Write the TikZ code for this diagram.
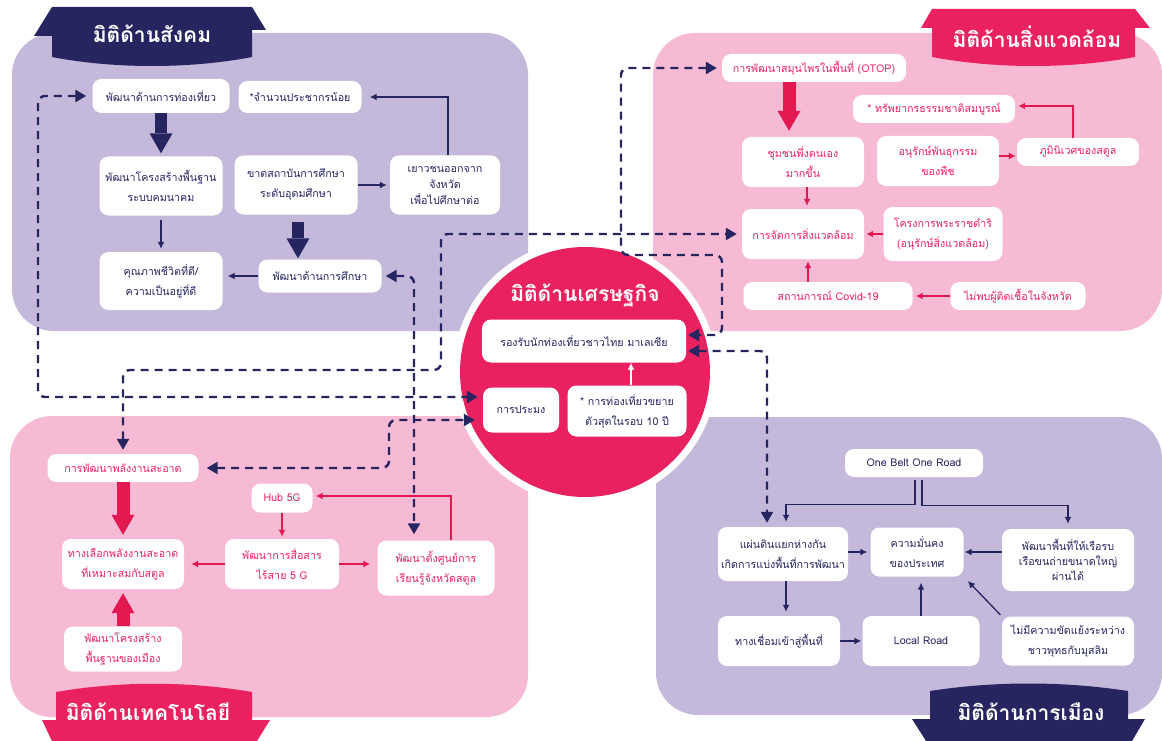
\documentclass[tikz,border=0pt]{standalone}
\usepackage{fontspec}
\setmainfont[Script=Thai]{Loma}
\usetikzlibrary{arrows.meta,positioning}
\definecolor{navy}{RGB}{38,37,96}
\definecolor{rosered}{RGB}{234,33,96}
\definecolor{arrowred}{RGB}{226,24,80}
\definecolor{lilac}{RGB}{196,185,219}
\definecolor{blush}{RGB}{246,186,212}

\begin{document}
\begin{tikzpicture}[x=1pt,y=-1pt,font=\fontsize{10.7}{20}\selectfont,
  sbox/.style={fill=white,rounded corners=9pt,align=center,inner sep=2pt},
  navytxt/.style={sbox,text=navy},
  redtxt/.style={sbox,text=rosered},
  thinnavy/.style={-{Latex[length=7pt,width=7pt]},navy,line width=1.3pt},
  thinred/.style={-{Latex[length=7pt,width=7pt]},arrowred,line width=1.3pt},
  fatnavy/.style={-{Triangle[length=20pt,width=23pt,line width=0pt]},navy,line width=12pt},
  fatred/.style={-{Triangle[length=20pt,width=23pt,line width=0pt]},arrowred,line width=13pt},
  dlink/.style={arrows={Triangle[length=11pt,width=12pt]-Triangle[length=11pt,width=12pt]},
    navy,line width=2.4pt,dash pattern=on 8pt off 6pt,rounded corners=7pt},
  tabtxt/.style={text=white,font=\fontsize{21}{24}\selectfont\bfseries}]
\useasboundingbox (0,0) rectangle (1162,741);
\clip (0,0) rectangle (1162,741);
% ================= panels and tabs =================
\fill[lilac,rounded corners=42pt] (12,33) rectangle (528,331);
\fill[blush,rounded corners=42pt] (653,33) rectangle (1162,331);
\fill[blush,rounded corners=42pt] (10,416) rectangle (528,717);
\fill[lilac,rounded corners=42pt] (656,417) rectangle (1162,715);
\fill[navy] (34,36) -- (52,7) -- (252,7) -- (266,30) -- (252,30) -- (252,57)
  .. controls (190,69) and (114,69) .. (52,57) -- (52,36) -- cycle;
\node[tabtxt] (tabsoc) at (152,34) {มิติด้านสังคม};
\fill[rosered] (921,28) -- (932,9) -- (1135,9) -- (1150,28) -- (1135,28) -- (1135,57)
  .. controls (1070,69) and (996,69) .. (932,57) -- (932,28) -- cycle;
\node[tabtxt] (tabenv) at (1037,37) {มิติด้านสิ่งแวดล้อม};
\fill[rosered] (56,692) .. controls (120,681) and (188,681) .. (252,692) -- (252,720)
  -- (270,720) -- (257,741) -- (52,741) -- (42,720) -- (56,720) -- cycle;
\node[tabtxt] (tabtech) at (148,712) {มิติด้านเทคโนโลยี};
\fill[navy] (930,691) .. controls (995,681) and (1063,681) .. (1128,691) -- (1128,719)
  -- (1145,719) -- (1132,741) -- (926,741) -- (912,719) -- (930,719) -- cycle;
\node[tabtxt] (tabpol) at (1031,712) {มิติด้านการเมือง};
% ================= CENTRE: economy =================
\fill[white] (585,372) circle[radius=132pt];
\fill[rosered] (585,372) circle[radius=125pt];
\node[tabtxt] (tabeco) at (585,295) {มิติด้านเศรษฐกิจ};
\node[navytxt,minimum width=204pt,minimum height=43pt] (thai) at (584,341)
  {รองรับนักท่องเที่ยวชาวไทย มาเลเซีย};
\node[navytxt,minimum width=76pt,minimum height=45pt] (fish) at (521,410) {การประมง};
\node[navytxt,minimum width=119pt,minimum height=51pt] (boom) at (627,411)
  {* การท่องเที่ยวขยาย\\ตัวสุดในรอบ 10 ปี};
\draw[-{Latex[length=7pt,width=7pt]},white,line width=1.3pt]
  ([xshift=4pt]boom.north) -- ([xshift=4pt]boom.north |- thai.south);
% ================= TOP LEFT: society =================
\node[navytxt,minimum width=137pt,minimum height=34pt] (tour) at (161,96) {พัฒนาด้านการท่องเที่ยว};
\node[navytxt,minimum width=123pt,minimum height=32pt] (fewpop) at (300,97) {*จำนวนประชากรน้อย};
\node[navytxt,minimum width=123pt,minimum height=59pt] (infra) at (161,186)
  {พัฒนาโครงสร้างพื้นฐาน\\ระบบคมนาคม};
\node[navytxt,minimum width=123pt,minimum height=59pt] (nouni) at (296,185)
  {ขาดสถาบันการศึกษา\\ระดับอุดมศึกษา};
\node[navytxt,minimum width=110pt,minimum height=59pt,font=\fontsize{10.7}{16}\selectfont] (youth)
  at (445,185) {เยาวชนออกจาก\\จังหวัด\\เพื่อไปศึกษาต่อ};
\node[navytxt,minimum width=123pt,minimum height=58pt] (life) at (161,281)
  {คุณภาพชีวิตที่ดี/\\ความเป็นอยู่ที่ดี};
\node[navytxt,minimum width=123pt,minimum height=33pt] (edu) at (320,276) {พัฒนาด้านการศึกษา};
\draw[fatnavy,shorten >=3pt] (tour.south) -- (infra.north);
\draw[thinnavy,shorten <=4pt,shorten >=3pt] (infra.south) -- (life.north);
\draw[fatnavy,shorten <=7pt,shorten >=1pt] ([xshift=2pt]nouni.south) -- ([xshift=2pt]nouni.south |- edu.north);
\draw[thinnavy,shorten >=3pt] (nouni.east) -- (youth.west);
\draw[thinnavy,shorten >=8pt] ([xshift=3pt]youth.north) |- (fewpop.east);
\draw[thinnavy,shorten >=5pt] (edu.west) -- (edu.west -| life.east);
% ================= TOP RIGHT: environment =================
\node[redtxt,minimum width=184pt,minimum height=28pt] (otop) at (814,68) {การพัฒนาสมุนไพรในพื้นที่ (OTOP)};
\node[redtxt,minimum width=162pt,minimum height=28pt] (rich) at (934,109) {* ทรัพยากรธรรมชาติสมบูรณ์};
\node[redtxt,minimum width=122pt,minimum height=50pt] (selfrel) at (803,162) {ชุมชนพึ่งตนเอง\\มากขึ้น};
\node[redtxt,minimum width=122pt,minimum height=50pt] (plant) at (938,161) {อนุรักษ์พันธุกรรม\\ของพืช};
\node[redtxt,minimum width=122pt,minimum height=28pt] (eco) at (1078,152) {ภูมินิเวศของสตูล};
\node[redtxt,minimum width=122pt,minimum height=50pt] (envm) at (803,234) {การจัดการสิ่งแวดล้อม};
\node[redtxt,minimum width=119pt,minimum height=54pt] (royal) at (943,234)
  {โครงการพระราชดำริ\\(อนุรักษ์สิ่งแวดล้อม)};
\node[redtxt,minimum width=169pt,minimum height=28pt] (covid) at (828,296) {สถานการณ์ Covid-19};
\node[redtxt,minimum width=135pt,minimum height=28pt] (noinf) at (1018,296) {ไม่พบผู้ติดเชื้อในจังหวัด};
\draw[fatred,shorten >=6pt] ([xshift=-25pt]otop.south) -- ([xshift=-25pt]otop.south |- selfrel.north);
\draw[thinred,shorten >=3pt] ([xshift=4pt]selfrel.south) -- ([xshift=4pt]selfrel.south |- envm.north);
\draw[thinred,shorten >=1pt] ([yshift=5pt]plant.east) -- ([yshift=5pt]plant.east -| eco.west);
\draw[thinred,shorten >=3pt] ([xshift=-5pt]eco.north) |- ([yshift=3pt]rich.east);
\draw[thinred,shorten >=2pt] (royal.west) -- (envm.east);
\draw[thinred,shorten >=2pt] ([xshift=-20pt]covid.north) -- ([xshift=-20pt]covid.north |- envm.south);
\draw[thinred,shorten >=3pt] (noinf.west) -- (covid.east);
% ================= BOTTOM LEFT: technology =================
\node[redtxt,minimum width=151pt,minimum height=28pt] (clean) at (123,468) {การพัฒนาพลังงานสะอาด};
\node[redtxt,minimum width=61pt,minimum height=29pt] (hub) at (282,498) {Hub 5G};
\node[redtxt,minimum width=122pt,minimum height=50pt] (choice) at (123,564)
  {ทางเลือกพลังงานสะอาด\\ที่เหมาะสมกับสตูล};
\node[redtxt,minimum width=114pt,minimum height=50pt] (wifi) at (282,564) {พัฒนาการสื่อสาร\\ไร้สาย 5 G};
\node[redtxt,minimum width=117pt,minimum height=55pt] (learn) at (436,568)
  {พัฒนาตั้งศูนย์การ\\เรียนรู้จังหวัดสตูล};
\node[redtxt,minimum width=118pt,minimum height=45pt] (cityinf) at (123,649)
  {พัฒนาโครงสร้าง\\พื้นฐานของเมือง};
\draw[fatred,shorten >=4pt] (clean.south) -- (choice.north);
\draw[fatred,shorten >=4pt] (cityinf.north) -- (choice.south);
\draw[thinred,shorten >=2pt] (hub.south) -- (wifi.north);
\draw[thinred,shorten >=7pt] (wifi.west) -- (choice.east);
\draw[thinred,shorten >=7pt] (wifi.east) -- (wifi.east -| learn.west);
\draw[thinred,shorten >=3pt] ([xshift=15pt]learn.north) |- ([yshift=2pt]hub.east);
% ================= BOTTOM RIGHT: politics =================
\node[navytxt,minimum width=138pt,minimum height=28pt] (obor) at (914,463) {One Belt One Road};
\node[navytxt,minimum width=130pt,minimum height=54pt] (land) at (783,554)
  {แผ่นดินแยกห่างกัน\\เกิดการแบ่งพื้นที่การพัฒนา};
\node[navytxt,minimum width=93pt,minimum height=49pt] (secure) at (917,552) {ความมั่นคง\\ของประเทศ};
\node[navytxt,minimum width=132pt,minimum height=62pt,font=\fontsize{10.7}{15}\selectfont] (ships)
  at (1068,560) {พัฒนาพื้นที่ให้เรือรบ\\เรือขนถ่ายขนาดใหญ่\\ผ่านได้};
\node[navytxt,minimum width=122pt,minimum height=50pt] (access) at (779,641) {ทางเชื่อมเข้าสู่พื้นที่};
\node[navytxt,minimum width=117pt,minimum height=50pt] (local) at (921,641) {Local Road};
\node[navytxt,minimum width=132pt,minimum height=49pt] (peace) at (1068,641)
  {ไม่มีความขัดแย้งระหว่าง\\ชาวพุทธกับมุสลิม};
\draw[thinnavy,shorten <=3pt,shorten >=5pt] ([xshift=1pt]obor.south) -- ++(0,27) -| ([xshift=3pt]land.north);
\draw[thinnavy,shorten <=3pt,shorten >=5pt] ([xshift=8pt]obor.south) -- ++(0,28) -| (ships.north);
\draw[thinnavy,shorten >=3pt] ([yshift=2pt]land.east) -- (secure.west);
\draw[thinnavy,shorten >=1pt] ([yshift=8pt]ships.west) -- (secure.east);
\draw[thinnavy,shorten >=4pt] ([xshift=3pt]land.south) -- ([xshift=3pt]land.south |- access.north);
\draw[thinnavy,shorten >=1pt] (access.east) -- (local.west);
\draw[thinnavy,shorten >=6pt] (local.north) -- (local.north |- secure.south);
\draw[thinnavy,shorten <=2pt,shorten >=6pt] (peace.north west) -- (secure.south east);
% ================= dashed links between dimensions =================
\draw[dlink,shorten <=6pt,shorten >=5pt] (tour.west) -- (38,96) -- (38,397) -- ([yshift=13pt]fish.west);
\draw[dlink,shorten <=4pt,shorten >=5pt] (clean.north) -- (123,370) -- (441,370) -- (441,234) -- (envm.west);
\draw[dlink,shorten <=5pt,shorten >=2pt] (otop.west) -- (621,68) -- (621,255) -- (722,255) -- (722,335)
  -- ([yshift=6pt]thai.east);
\draw[dlink,shorten <=2pt,shorten >=4pt] ([yshift=-10pt]thai.east) -- (767,351) -- ([xshift=-16pt]land.north);
\draw[dlink,shorten <=4pt,shorten >=6pt] (edu.east) -- (414,276) -- ([xshift=-22pt]learn.north);
\draw[dlink,shorten <=8pt,shorten >=8pt] (clean.east) -- (389,468) -- (389,420) -- ([yshift=-10pt]fish.west);
\end{tikzpicture}
\end{document}
